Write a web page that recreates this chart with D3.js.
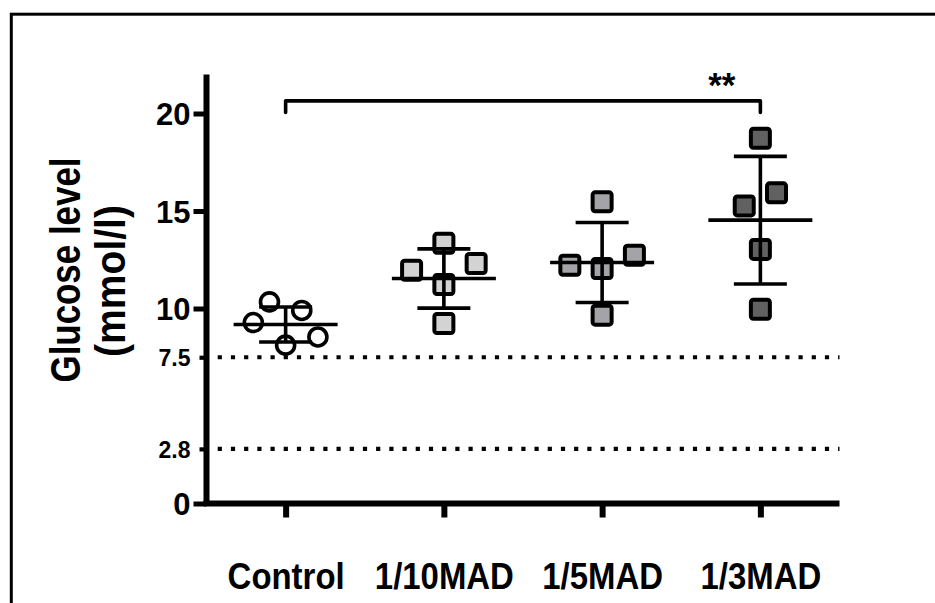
<!DOCTYPE html>
<html>
<head>
<meta charset="utf-8">
<script src="https://cdn.jsdelivr.net/npm/d3@7"></script>
<style>
  html, body { margin: 0; padding: 0; background: #fff; }
  svg { display: block; }
</style>
</head>
<body>
<div id="chart"></div>
<script>
// Glucose level per group: scatter + mean ± SD, with significance bracket

const GROUPS = ['Control', '1/10MAD', '1/5MAD', '1/3MAD'];
const VALUES = [
    [10.34, 9.90, 9.28, 8.54, 8.12],
    [13.34, 11.96, 12.31, 11.23, 9.23],
    [15.47, 12.22, 12.05, 12.73, 9.66],
    [18.73, 15.93, 15.26, 13.03, 9.96]
];
// horizontal scatter slot of each point (Prism-style spreading)
const SLOTS = [
    [-1, 1, -2, 2, 0],
    [0, -2, 2, 0, 0],
    [0, -2, 0, 2, 0],
    [0, 1, -1, 0, 0]
];
const MEANS = [9.18, 11.54, 12.36, 14.53];
const SDS   = [0.90, 1.52, 2.05, 3.27];
const FILLS = ['#ffffff', '#d3d3d3', '#a3a3a8', '#616161'];

const MAJOR_TICKS = [0, 10, 15, 20];
const MINOR_TICKS = [7.5, 2.8];
const REF_LINES   = [7.5, 2.8];
const BRACKET = { from: 'Control', to: '1/3MAD', top: 20.65, leg: 20.05, label: '**' };
const Y_TITLE = ['Glucose level', '(mmol/l)'];

(function () {
    const FONT = '"Liberation Sans", Arial, Helvetica, sans-serif';
    const width = 935, height = 603;
    const X0 = 206.5, X1 = 839.5;

    const svg = d3.select('#chart').append('svg')
        .attr('width', width).attr('height', height)
        .attr('viewBox', `0 0 ${width} ${height}`);

    // frame
    svg.append('rect')
        .attr('x', 11.3).attr('y', 14.2).attr('width', 1000).attr('height', 1000)
        .attr('fill', 'none').attr('stroke', '#000').attr('stroke-width', 3);

    const xScale = d3.scalePoint().domain(GROUPS).range([X0, X1]).padding(0.5);
    const yScale = d3.scaleLinear().domain([0, 22]).range([503.5, 74.5]);
    const slotW = xScale.step() * 0.102;

    // dotted reference lines
    svg.selectAll('.ref').data(REF_LINES).enter().append('line')
        .attr('x1', X0 - 2).attr('x2', X1)
        .attr('y1', d => yScale(d)).attr('y2', d => yScale(d))
        .attr('stroke', '#000').attr('stroke-width', 4.2)
        .attr('stroke-dasharray', '4.2,9');

    // y axis: major ticks
    const yMajor = svg.append('g').attr('transform', `translate(${X0},0)`)
        .call(d3.axisLeft(yScale).tickValues(MAJOR_TICKS).tickSize(13).tickSizeOuter(0).tickPadding(3).tickFormat(d3.format('d')));
    yMajor.select('.domain').remove();
    yMajor.selectAll('.tick line').attr('stroke', '#000').attr('stroke-width', 5);
    yMajor.selectAll('.tick text')
        .attr('font-family', FONT).attr('font-weight', 'bold').attr('font-size', '31px')
        .attr('fill', '#000').attr('dy', '0.36em');

    // y axis: minor (reference) ticks
    const yMinor = svg.append('g').attr('transform', `translate(${X0},0)`)
        .call(d3.axisLeft(yScale).tickValues(MINOR_TICKS).tickSize(7).tickSizeOuter(0).tickPadding(9).tickFormat(d3.format('.1f')));
    yMinor.select('.domain').remove();
    yMinor.selectAll('.tick line').attr('stroke', '#000').attr('stroke-width', 4.2);
    yMinor.selectAll('.tick text')
        .attr('font-family', FONT).attr('font-weight', 'bold').attr('font-size', '23px')
        .attr('fill', '#000').attr('dy', '0.36em');

    // x axis
    const xAxis = svg.append('g').attr('transform', `translate(0,${yScale(0)})`)
        .call(d3.axisBottom(xScale).tickSize(14).tickSizeOuter(0));
    xAxis.select('.domain').remove();
    xAxis.selectAll('.tick line').attr('stroke', '#000').attr('stroke-width', 6);
    xAxis.selectAll('.tick text')
        .attr('font-family', FONT).attr('font-weight', 'bold').attr('font-size', '37px')
        .attr('fill', '#000').attr('y', 85.5).attr('dy', 0)
        .attr('transform', 'scale(0.89,1)')
        .attr('x', 0);

    // axis lines
    svg.append('line')
        .attr('x1', X0).attr('x2', X0)
        .attr('y1', yScale(22)).attr('y2', yScale(0))
        .attr('stroke', '#000').attr('stroke-width', 6);
    svg.append('line')
        .attr('x1', X0 - 3).attr('x2', X1)
        .attr('y1', yScale(0)).attr('y2', yScale(0))
        .attr('stroke', '#000').attr('stroke-width', 6);

    // points
    GROUPS.forEach((grp, gi) => {
        const cx = xScale(grp);
        const pts = VALUES[gi].map((v, i) => ({ v, x: cx + SLOTS[gi][i] * slotW }));
        if (gi === 0) {
            svg.selectAll(null).data(pts).enter().append('circle')
                .attr('cx', d => d.x).attr('cy', d => yScale(d.v)).attr('r', 9)
                .attr('fill', FILLS[gi]).attr('stroke', '#000').attr('stroke-width', 3.6);
        } else {
            svg.selectAll(null).data(pts).enter().append('rect')
                .attr('x', d => d.x - 9.5).attr('y', d => yScale(d.v) - 9.5)
                .attr('width', 19).attr('height', 19).attr('rx', 2.5)
                .attr('fill', FILLS[gi]).attr('stroke', '#000').attr('stroke-width', 4);
        }
    });

    // mean ± SD
    GROUPS.forEach((grp, gi) => {
        const cx = xScale(grp);
        const m = MEANS[gi], s = SDS[gi];
        const g = svg.append('g').attr('stroke', '#000').attr('stroke-width', 3.6);
        g.append('line').attr('x1', cx).attr('x2', cx)
            .attr('y1', yScale(m + s)).attr('y2', yScale(m - s));
        g.append('line').attr('x1', cx - 52).attr('x2', cx + 52)
            .attr('y1', yScale(m)).attr('y2', yScale(m));
        [m + s, m - s].forEach(v => {
            g.append('line').attr('x1', cx - 26.5).attr('x2', cx + 26.5)
                .attr('y1', yScale(v)).attr('y2', yScale(v));
        });
    });

    // significance bracket
    const bx1 = xScale(BRACKET.from), bx2 = xScale(BRACKET.to);
    svg.append('path')
        .attr('d', `M${bx1},${yScale(BRACKET.leg)}V${yScale(BRACKET.top)}H${bx2}V${yScale(BRACKET.leg)}`)
        .attr('fill', 'none').attr('stroke', '#000').attr('stroke-width', 3.6)
        .attr('stroke-linecap', 'round').attr('stroke-linejoin', 'round');
    svg.append('text')
        .attr('x', bx2 - 38.5).attr('y', yScale(BRACKET.top) - 3.5)
        .attr('text-anchor', 'middle')
        .attr('font-family', FONT).attr('font-weight', 'bold').attr('font-size', '35px')
        .text(BRACKET.label);

    // y title
    const titleLines = [
        { t: Y_TITLE[0], x: 80, y: 270, len: 225 },
        { t: Y_TITLE[1], x: 125, y: 281, len: 152 }
    ];
    titleLines.forEach(l => {
        svg.append('text')
            .attr('transform', `translate(${l.x},${l.y}) rotate(-90)`)
            .attr('text-anchor', 'middle')
            .attr('font-family', FONT).attr('font-weight', 'bold').attr('font-size', '42px')
            .attr('textLength', l.len).attr('lengthAdjust', 'spacingAndGlyphs')
            .text(l.t);
    });
})();
</script>
</body>
</html>
